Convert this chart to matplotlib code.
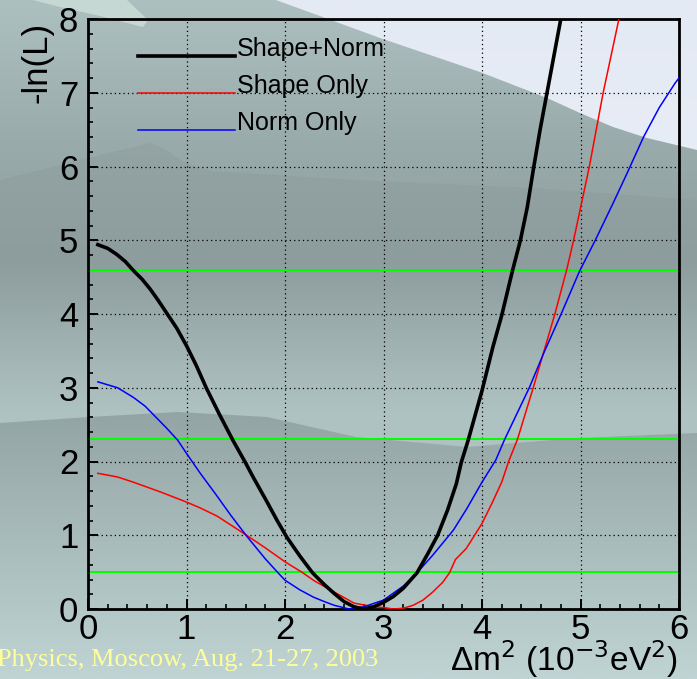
import numpy as np
import matplotlib.pyplot as plt
from matplotlib.colors import LinearSegmentedColormap
from matplotlib.patches import Polygon
from matplotlib.lines import Line2D
from matplotlib.ticker import MultipleLocator

plt.rcParams['font.family'] = ['Liberation Sans', 'DejaVu Sans']

# -ln(L) vs delta m^2 (1e-3 eV^2)
dm_both = [0.1, 0.2, 0.29, 0.38, 0.46, 0.55, 0.63, 0.71, 0.79, 0.9, 1.0, 1.1, 1.2,
           1.33, 1.47, 1.6, 1.68, 1.81, 1.92, 2.02, 2.15, 2.28, 2.4, 2.5, 2.6,
           2.7, 2.8, 2.9, 3.0, 3.1, 3.2, 3.34, 3.45, 3.55, 3.65, 3.74, 3.79,
           3.86, 4.0, 4.11, 4.2, 4.31, 4.39, 4.46, 4.52, 4.59, 4.66, 4.73, 4.80,
           4.83]
nll_both = [4.94, 4.89, 4.81, 4.71, 4.59, 4.47, 4.34, 4.19, 4.03, 3.81, 3.57, 3.30,
            3.0, 2.65, 2.29, 1.98, 1.78, 1.47, 1.2, 0.97, 0.72, 0.49, 0.33, 0.21,
            0.1, 0.03, 0.0, 0.03, 0.09, 0.17, 0.28, 0.49, 0.75, 1.0, 1.34, 1.7,
            1.99, 2.29, 2.96, 3.55, 3.98, 4.59, 5.0, 5.45, 5.95, 6.5, 7.0, 7.5,
            8.0, 8.2]

dm_shape = [0.1, 0.3, 0.46, 0.73, 1.0, 1.14, 1.31, 1.61, 1.81, 2.0, 2.17, 2.3,
            2.5, 2.7, 2.9, 3.0, 3.1, 3.2, 3.3, 3.4, 3.5, 3.6, 3.67, 3.73, 3.84,
            4.0, 4.1, 4.2, 4.27, 4.36, 4.52, 4.63, 4.74, 4.86, 4.93, 5.09, 5.23,
            5.39, 5.42]
nll_shape = [1.84, 1.79, 1.72, 1.59, 1.45, 1.37, 1.26, 1.0, 0.82, 0.64, 0.5, 0.38,
             0.23, 0.08, 0.03, 0.02, 0.0, 0.01, 0.05, 0.12, 0.23, 0.36, 0.49,
             0.67, 0.82, 1.16, 1.43, 1.72, 2.0, 2.3, 3.0, 3.5, 4.0, 4.6, 5.0, 6.0,
             7.0, 8.0, 8.2]

dm_norm = [0.1, 0.3, 0.46, 0.58, 0.69, 0.8, 0.91, 1.0, 1.14, 1.3, 1.45, 1.61, 1.8,
           1.93, 2.0, 2.15, 2.29, 2.4, 2.5, 2.65, 2.8, 3.0, 3.2, 3.34, 3.5, 3.71,
           3.85, 4.0, 4.14, 4.23, 4.48, 4.63, 4.81, 4.99, 5.15, 5.33, 5.47, 5.64,
           5.8, 5.96, 6.0]
nll_norm = [3.08, 3.0, 2.87, 2.75, 2.6, 2.45, 2.29, 2.11, 1.84, 1.55, 1.27, 0.99,
            0.68, 0.49, 0.39, 0.26, 0.16, 0.1, 0.05, 0.0, 0.03, 0.12, 0.31, 0.49,
            0.73, 1.07, 1.37, 1.72, 2.02, 2.3, 3.0, 3.48, 4.02, 4.58, 5.0, 5.5,
            5.9, 6.4, 6.8, 7.13, 7.2]

levels = [0.5, 2.3, 4.6]
labels = ['Shape+Norm', 'Shape Only', 'Norm Only']

W, H = 697, 679
fig = plt.figure(figsize=(W / 100, H / 100), dpi=100)

# background picture (slide backdrop)
bg = fig.add_axes([0, 0, 1, 1])
bg.axis('off')


def grad_fill(xy, stops):
    ys = [s[0] for s in stops]
    y0, y1 = min(ys), max(ys)
    cmap = LinearSegmentedColormap.from_list(
        'g', [((y - y0) / (y1 - y0), c) for y, c in stops])
    poly = Polygon(xy, closed=True, fc='none', ec='none')
    bg.add_patch(poly)
    im = bg.imshow(np.linspace(0, 1, 256)[:, None], cmap=cmap,
                   extent=[0, W, y1, y0], aspect='auto', interpolation='bilinear')
    im.set_clip_path(poly)


grad_fill([(0, 0), (W, 0), (W, H), (0, H)], [(0, '#e4eaf4'), (H, '#f2f5fa')])
grad_fill([(276, 0), (350, 27), (380, 38), (480, 72), (547, 98), (580, 113),
           (613, 127), (647, 138), (697, 150), (W, H), (0, H), (0, 0)],
          [(0, '#adc0c0'), (140, '#9aabab'), (260, '#909f9f'), (410, '#b1c4c4'), (H, '#b1c4c4')])
grad_fill([(0, 180), (80, 160), (150, 143), (165, 149), (185, 163), (210, 171),
           (356, 180), (533, 188), (697, 200), (W, H), (0, H)],
          [(140, '#94a3a3'), (260, '#8d9c9c'), (410, '#afc2c2'), (H, '#afc2c2')])
grad_fill([(0, 423), (89, 417), (178, 412), (267, 417), (356, 437), (467, 447),
           (578, 438), (697, 433), (W, H), (0, H)],
          [(410, '#93a4a4'), (H, '#c0d4d4')])
bg.add_patch(Polygon([(33, 0), (127, 0), (148, 20), (143, 27), (100, 16), (60, 7)],
                     closed=True, fc='#c5d8d4', ec='none'))
bg.set_xlim(0, W)
bg.set_ylim(H, 0)

# main plot
ax = fig.add_axes([88 / W, 1 - 609 / H, 591 / W, 590 / H])
ax.patch.set_alpha(0)

for lv in levels:
    ax.axhline(lv, color='#00ff00', lw=1.4, zorder=2)

ax.plot(dm_both, nll_both, color='black', lw=2.6, zorder=4, solid_joinstyle='round')
ax.plot(dm_shape, nll_shape, color='#ff0000', lw=1.1, zorder=3, solid_joinstyle='round')
ax.plot(dm_norm, nll_norm, color='#0000ff', lw=1.1, zorder=3, solid_joinstyle='round')

ax.set_xlim(0, 6)
ax.set_ylim(0, 8)
ax.set_xticks(range(0, 7))
ax.set_yticks(range(0, 9))
ax.xaxis.set_minor_locator(MultipleLocator(0.2))
ax.yaxis.set_minor_locator(MultipleLocator(0.2))
ax.tick_params(which='both', direction='in', top=False, right=False, labelsize=25)
ax.tick_params(which='major', length=7, width=1.4)
ax.tick_params(which='minor', length=3.6, width=1.2)
ax.tick_params(axis='y', pad=7)
ax.tick_params(axis='x', pad=3)
ax.grid(True, which='major', color='black', lw=0.9, ls=(0, (1, 2.5)), zorder=1)
for sp in ax.spines.values():
    sp.set_linewidth(2)

# legend drawn ROOT-style (text sitting on the line)
leg_colors = ['black', '#ff0000', '#0000ff']
leg_widths = [2.6, 1.1, 1.1]
leg_y = [0.937, 0.874, 0.812]
for lab, c, w, y in zip(labels, leg_colors, leg_widths, leg_y):
    ax.add_line(Line2D([0.085, 0.249], [y, y], color=c, lw=w, transform=ax.transAxes, zorder=5))
    ax.text(0.252, y, lab, transform=ax.transAxes, fontsize=18, va='baseline', ha='left')

fig.text(37 / W, 1 - 62 / H, '-ln(L)', rotation=90, fontsize=25, ha='center', va='center')
fig.text(678 / W, 1 - 671 / H, 'Δm$^2$ (10$^{-3}$eV$^2$)', fontsize=24, ha='right', va='baseline')
fig.text(-3 / W, 1 - 666 / H, 'Physics, Moscow, Aug. 21-27, 2003', fontsize=19,
         family=['Liberation Serif', 'DejaVu Serif'], color='#ffff99', ha='left', va='baseline')

fig.savefig('out.png', dpi=100)
